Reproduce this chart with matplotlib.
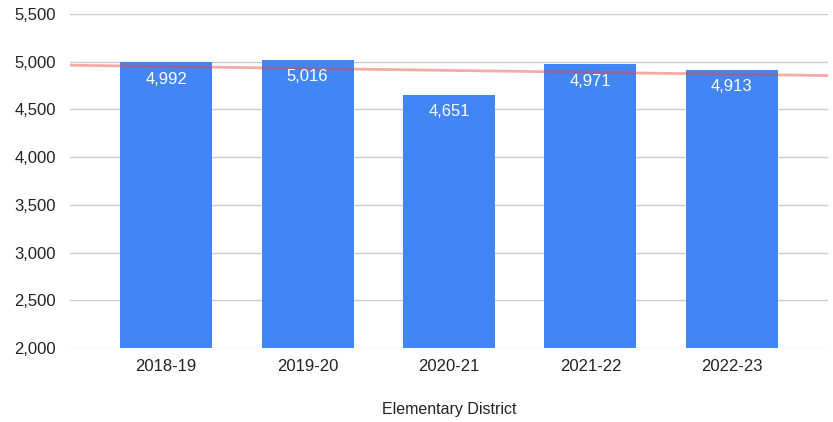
import numpy as np
import matplotlib.pyplot as plt

plt.rcParams['font.family'] = ['Liberation Sans', 'DejaVu Sans']

years = ['2018-19', '2019-20', '2020-21', '2021-22', '2022-23']
enrollment = [4992, 5016, 4651, 4971, 4913]

fig = plt.figure(figsize=(8.33, 4.22), dpi=100)
ax = fig.add_axes([0.084, 0.175, 0.91, 0.792])

x = np.arange(len(years))
bars = ax.bar(x, enrollment, width=0.65, color='#4285F4', zorder=2)

for xi, v in zip(x, enrollment):
    ax.text(xi, v - 95, f'{v:,}', ha='center', va='top', color='white', fontsize=12, zorder=4)

# linear trendline
xlim = (-0.68, 4.68)
k, b = np.polyfit(x, enrollment, 1)
tx = np.array(xlim)
ax.plot(tx, k * tx + b, color='#EA4335', alpha=0.45, linewidth=2, zorder=3)

ax.set_xlim(*xlim)
ax.set_ylim(2000, 5500)
ax.set_yticks(range(2000, 5501, 500))
ax.set_yticklabels([f'{t:,}' for t in range(2000, 5501, 500)])
ax.set_xticks(x)
ax.set_xticklabels(years)
ax.grid(axis='y', color='#cccccc', linewidth=1, zorder=0)
ax.set_axisbelow(True)
for s in ax.spines.values():
    s.set_visible(False)
ax.tick_params(axis='both', length=0, labelsize=12, colors='#222222')
ax.tick_params(axis='y', pad=10)
ax.tick_params(axis='x', pad=8)
ax.set_xlabel('Elementary District', fontsize=11.5, color='#222222', labelpad=20)

fig.savefig('out.png', dpi=100)
